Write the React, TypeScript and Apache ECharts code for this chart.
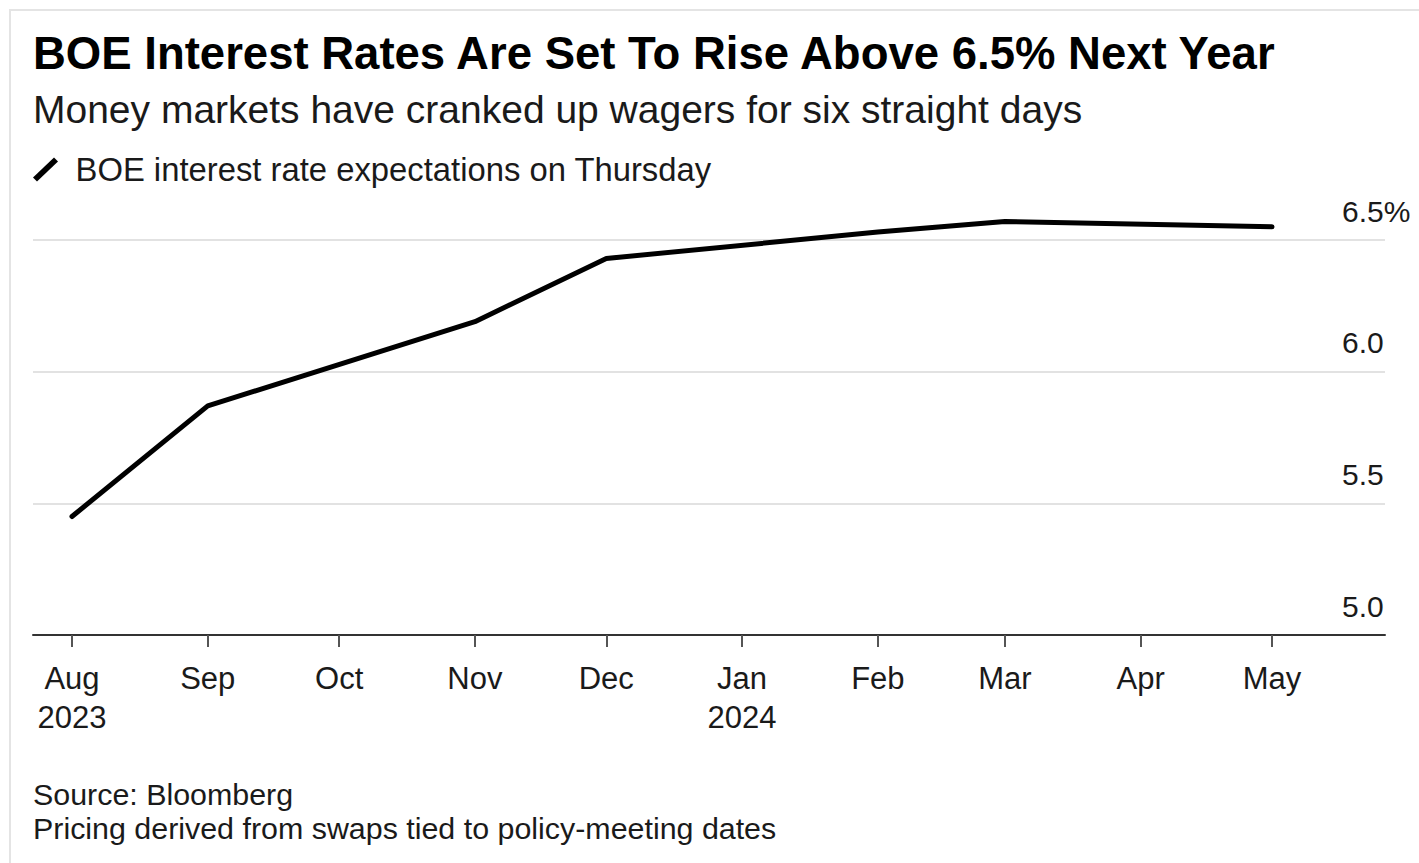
import React, { useEffect, useRef } from "react";
import * as echarts from "echarts";

const FONT = "'Liberation Sans', Arial, sans-serif";

const titleText = "BOE Interest Rates Are Set To Rise Above 6.5% Next Year";
const subtitleText = "Money markets have cranked up wagers for six straight days";
const seriesName = "BOE interest rate expectations on Thursday";
const sourceLines = ["Source: Bloomberg", "Pricing derived from swaps tied to policy-meeting dates"];

// policy-meeting months (first of month) and expected rate (%)
const pointDates: [number, number, number][] = [
  [2023, 7, 1],
  [2023, 8, 1],
  [2023, 10, 1],
  [2023, 11, 1],
  [2024, 1, 1],
  [2024, 2, 1],
  [2024, 4, 1],
];
const rateValues = [5.45, 5.87, 6.19, 6.43, 6.53, 6.57, 6.55];

// x-axis ticks
const tickDates: [number, number, number][] = [
  [2023, 7, 1],
  [2023, 8, 1],
  [2023, 9, 1],
  [2023, 10, 1],
  [2023, 11, 1],
  [2024, 0, 1],
  [2024, 1, 1],
  [2024, 2, 1],
  [2024, 3, 1],
  [2024, 4, 1],
];
const tickLabels = ["Aug\n2023", "Sep", "Oct", "Nov", "Dec", "Jan\n2024", "Feb", "Mar", "Apr", "May"];

const yTicks = [5.0, 5.5, 6.0, 6.5];

const DAY = 86400000;
const ts = (d: [number, number, number]) => Date.UTC(d[0], d[1], d[2]) / DAY;

export default function App() {
  const ref = useRef<HTMLDivElement>(null);
  useEffect(() => {
    if (!ref.current) return;
    const chart = echarts.init(ref.current, null, { renderer: "svg" });
    const tickTs = tickDates.map(ts);
    const findLabel = (v: number) => {
      const i = tickTs.findIndex((t) => Math.abs(t - v) < 0.01);
      return i < 0 ? "" : tickLabels[i];
    };
    const data = pointDates.map((d, i) => [ts(d), rateValues[i]]);
    const xMin = tickTs[0] - 8.9;
    const xMax = tickTs[tickTs.length - 1] + 25.8;

    chart.setOption({
      animation: false,
      backgroundColor: "#ffffff",
      title: [
        {
          text: titleText,
          left: 33,
          top: 30,
          padding: 0,
          textStyle: { fontFamily: FONT, fontWeight: "bold", fontSize: 45.5, color: "#000" },
        },
        {
          text: subtitleText,
          left: 33,
          top: 90,
          padding: 0,
          textStyle: { fontFamily: FONT, fontWeight: "normal", fontSize: 39, color: "#1a1a1a" },
        },
        {
          text: sourceLines.join("\n"),
          left: 33,
          top: 777,
          padding: 0,
          textStyle: { fontFamily: FONT, fontWeight: "normal", fontSize: 30.4, lineHeight: 34, color: "#1a1a1a" },
        },
      ],
      legend: {
        left: 33,
        top: 153,
        padding: 0,
        itemWidth: 26,
        itemHeight: 24,
        data: [{ name: seriesName, icon: "path://M0,20 L21,0 L25,4 L4,24 Z" }],
        textStyle: { fontFamily: FONT, fontSize: 32.8, color: "#1a1a1a", padding: [0, 0, 0, 12] },
        itemStyle: { color: "#000" },
      },
      grid: { left: 33, right: 34, top: 240, bottom: 228, containLabel: false },
      xAxis: {
        type: "value",
        min: xMin,
        max: xMax,
        axisLine: { show: true, lineStyle: { color: "#333", width: 2 } },
        axisTick: { show: true, customValues: tickTs, length: 12, lineStyle: { color: "#555", width: 2 } },
        axisLabel: {
          customValues: tickTs,
          formatter: (v: number) => findLabel(v),
          fontFamily: FONT,
          fontSize: 31,
          lineHeight: 39,
          color: "#1a1a1a",
          margin: 24,
          verticalAlign: "top",
        },
        splitLine: { show: false },
      },
      yAxis: {
        type: "value",
        position: "right",
        min: 5,
        max: 6.5,
        interval: 0.5,
        axisLine: { show: false },
        axisTick: { show: false },
        axisLabel: {
          inside: true,
          align: "left",
          verticalAlign: "bottom",
          margin: 43,
          padding: [0, 0, 14, 0],
          fontFamily: FONT,
          fontSize: 30,
          color: "#1a1a1a",
          formatter: (v: number) => {
            const idx = yTicks.findIndex((t) => Math.abs(t - v) < 1e-9);
            if (idx < 0) return "";
            return idx === yTicks.length - 1 ? v.toFixed(1) + "%" : v.toFixed(1);
          },
        },
        splitLine: { show: true, lineStyle: { color: "#e2e2e2", width: 2 } },
      },
      series: [
        {
          name: seriesName,
          type: "line",
          data,
          showSymbol: false,
          symbol: "none",
          clip: false,
          lineStyle: { color: "#000", width: 5, cap: "round", join: "round" },
          itemStyle: { color: "#000" },
        },
      ],
      graphic: [
        {
          type: "polyline",
          shape: { points: [[10, 863], [10, 10], [1419, 10]] },
          style: { stroke: "#e4e4e4", lineWidth: 2, fill: "none" },
          silent: true,
        },
      ],
    });
    return () => chart.dispose();
  }, []);
  return <div ref={ref} style={{ position: "fixed", left: 0, top: 0, width: 1419, height: 863 }} />;
}
